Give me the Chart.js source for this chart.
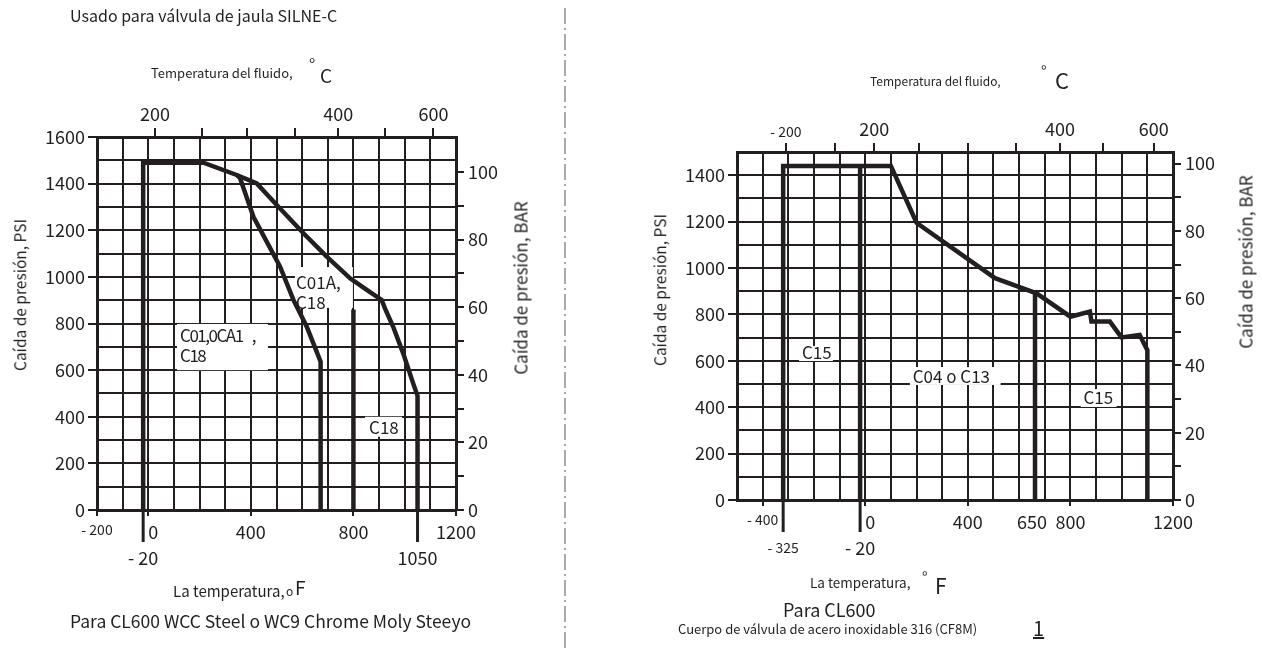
<!DOCTYPE html>
<html>
<head>
<meta charset="utf-8">
<script src="https://cdn.jsdelivr.net/npm/chart.js@4.4.1/dist/chart.umd.min.js"></script>
<style>
  body { margin: 0; width: 1262px; height: 652px; position: relative; overflow: hidden; background: #fff;
         font-family: "Noto Sans CJK JP", "Noto Sans", sans-serif; color: #231f20; }
  .t { position: absolute; white-space: nowrap; line-height: 1; transform: translateY(-50%); }
  .r { position: absolute; white-space: nowrap; line-height: 1; transform: translate(-50%, -50%) rotate(-90deg); }
  canvas { position: absolute; top: 0; }
</style>
</head>
<body>
<canvas id="izq" width="560" height="652" style="left:0"></canvas>
<canvas id="der" width="682" height="652" style="left:580px"></canvas>
<svg style="position:absolute;left:560px;top:0" width="10" height="652">
  <line x1="5" y1="8" x2="5" y2="652" stroke="#555" stroke-width="1" stroke-dasharray="16 4 2 4"/>
</svg>

<div class="t" style="left:70px;top:15px;font-size:16px">Usado para válvula de jaula SILNE-C</div>
<div class="t" style="left:151px;top:72px;font-size:13px">Temperatura del fluido,</div>
<div class="t" style="left:309px;top:63px;font-size:17px">°</div>
<div class="t" style="left:320px;top:74px;font-size:19px">C</div>
<div class="r" style="left:20px;top:295px;font-size:15.5px">Caída de presión, PSI</div>
<div class="r" style="left:520px;top:288px;font-size:17px">Caída de presión, BAR</div>
<div class="t" style="left:173px;top:590px;font-size:15px">La temperatura,</div>
<div class="t" style="left:286px;top:591px;font-size:12px">o</div>
<div class="t" style="left:295px;top:586px;font-size:19px">F</div>
<div class="t" style="left:70px;top:621px;font-size:17.5px">Para CL600 WCC Steel o WC9 Chrome Moly Steeyo</div>

<div class="t" style="left:870px;top:81px;font-size:12px">Temperatura del fluido,</div>
<div class="t" style="left:1041px;top:70px;font-size:15px">°</div>
<div class="t" style="left:1055px;top:79px;font-size:22px">C</div>
<div class="r" style="left:660px;top:290px;font-size:15.5px">Caída de presión, PSI</div>
<div class="r" style="left:1245px;top:262px;font-size:17px">Caída de presión, BAR</div>
<div class="t" style="left:810px;top:583px;font-size:13.5px">La temperatura,</div>
<div class="t" style="left:922px;top:576px;font-size:15px">°</div>
<div class="t" style="left:935px;top:585px;font-size:21px">F</div>
<div class="t" style="left:783px;top:609px;font-size:18px">Para CL600</div>
<div class="t" style="left:678px;top:628px;font-size:13px">Cuerpo de válvula de acero inoxidable 316 (CF8M)</div>
<div class="t" style="left:1033px;top:628px;font-size:20px;text-decoration:underline">1</div>

<script>
const INK = '#231f20';
const FONT = '"Noto Sans CJK JP", "Noto Sans", sans-serif';

// --- Panel izquierdo: acero WCC / WC9 (°F contra PSI)
const outerTempF = [-20, -20, 215, 345, 423, 501, 605, 696, 787, 852, 910, 923, 955, 994, 1033, 1050, 1050];
const outerPsi   = [0, 1490, 1490, 1437, 1401, 1308, 1187, 1087, 994, 944, 901, 865, 786, 672, 543, 490, 0];
const innerTempF = [345, 358, 410, 514, 566, 618, 672, 672];
const innerPsi   = [1437, 1423, 1258, 1044, 901, 786, 636, 0];
const c18TempF   = [800, 800];
const c18Psi     = [0, 860];

const leftFTicks    = [-200, 0, 400, 800, 1200];
const leftFLabels   = [-200, 400, 800, 1200];
const leftCTicks    = [26, 208, 384, 572, 741, 923, 1112];   // posiciones de la escala °C sobre la escala °F
const leftCLabels   = ['200', '', '', '', '400', '', '600'];
const leftMarks     = [{ v: 0, text: '0', row: 1, dx: 5 }, { v: -20, text: '- 20' }, { v: 1050, text: '1050' }];
const leftLabels = [
  { lines: ['C01A,', 'C18'], x: 576, y: 974, box: [572, 798, 1042, 867] },
  { lines: ['C01,0CA1    ,', 'C18'], x: 124, y: 747, box: [112, 467, 798, 600], tight: true },
  { lines: ['C18'], x: 861, y: 352, box: [845, 989, 400, 314] }
];

// --- Panel derecho: acero inoxidable 316 (CF8M)
const c15TempF  = [-320, -320, 100, 200, 506, 668, 800, 876, 882, 954, 999, 1070, 1100, 1100];
const c15Psi    = [0, 1440, 1440, 1195, 956, 891, 790, 812, 769, 769, 701, 711, 646, 0];
const c04TempF  = [-20, -20];
const c04Psi    = [0, 1440];
const c650TempF = [662, 662];
const c650Psi   = [0, 893];

const rightFTicks  = [-400, 0, 400, 800, 1200];
const rightFLabels = [-400, 400, 800, 1200];
const rightCTicks  = [-309, -119, 35, 208, 400, 588, 759, 927, 1125];
const rightCLabels = ['- 200', '', '200', '', '', '', '400', '', '600'];
const rightMarks   = [{ v: 0, text: '0', row: 1, dx: 5 }, { v: 650, text: '650', row: 1 },
                      { v: -320, text: '- 325', small: true }, { v: -20, text: '- 20' }];
const rightLabels = [
  { lines: ['C15'], x: -247, y: 634, box: [-258, -126, 664, 599] },
  { lines: ['C04 o C13'], x: 185, y: 534, box: [174, 528, 573, 496] },
  { lines: ['C15'], x: 851, y: 440, box: [840, 980, 478, 401] }
];

const barTicks = [0, 10, 20, 30, 40, 50, 60, 70, 80, 90, 100];
const PSI_PER_BAR = 14.5;

function pts(xs, ys) { return xs.map((x, i) => ({ x, y: ys[i] })); }
function line(xs, ys) {
  return { data: pts(xs, ys), borderColor: INK, borderWidth: 4.5, pointRadius: 0, fill: false,
           tension: 0, borderJoinStyle: 'miter', borderCapStyle: 'butt' };
}
function fmt(v) { return v < 0 ? '- ' + Math.abs(v) : String(v); }

function extras(marks, labels) {
  return {
    id: 'extras',
    // cajas blancas debajo de las curvas
    beforeDatasetsDraw(chart) {
      const { ctx } = chart;
      const xs = chart.scales.x, ys = chart.scales.y;
      ctx.save();
      ctx.fillStyle = '#fff';
      labels.forEach(l => {
        const [x0, x1, y0, y1] = l.box;
        const bx = xs.getPixelForValue(x0), by = ys.getPixelForValue(y0);
        ctx.fillRect(bx, by, xs.getPixelForValue(x1) - bx, ys.getPixelForValue(y1) - by);
      });
      ctx.restore();
    },
    afterDatasetsDraw(chart) {
      const { ctx, chartArea: a } = chart;
      const xs = chart.scales.x, ys = chart.scales.y;
      ctx.save();
      ctx.fillStyle = INK; ctx.strokeStyle = INK;
      ctx.textAlign = 'center'; ctx.textBaseline = 'middle';
      marks.forEach(m => {
        const px = xs.getPixelForValue(m.v);
        const row = m.row || 2;
        if (row === 2) {
          ctx.lineWidth = 3;
          ctx.beginPath(); ctx.moveTo(px, a.bottom); ctx.lineTo(px, a.bottom + 32); ctx.stroke();
        }
        ctx.font = (m.small ? 14 : 18) + 'px ' + FONT;
        ctx.fillText(m.text, px + (m.dx || 0), a.bottom + (row === 1 ? 22 : 48));
      });
      ctx.textAlign = 'left';
      ctx.font = '17px ' + FONT;
      labels.forEach(l => {
        ctx.letterSpacing = l.tight ? '-1.5px' : '0px';
        const tx = xs.getPixelForValue(l.x), ty = ys.getPixelForValue(l.y);
        l.lines.forEach((s, i) => ctx.fillText(s, tx, ty + i * 20));
      });
      ctx.restore();
    }
  };
}

function makeChart(id, o) {
  const W = o.width, H = 652;
  const grid = { color: INK, lineWidth: 2 };
  return new Chart(document.getElementById(id), {
    type: 'line',
    data: { datasets: o.series.map(s => line(s[0], s[1])) },
    options: {
      responsive: false, animation: false, devicePixelRatio: 1,
      layout: { padding: 0 },
      plugins: { legend: { display: false }, tooltip: { enabled: false } },
      scales: {
        x: {
          type: 'linear', position: 'bottom', min: o.xMin, max: 1200,
          afterFit: s => { s.height = H - o.area.bottom; },
          ticks: { stepSize: 100, autoSkip: false, maxRotation: 0, padding: 5, color: INK,
                   font: c => ({ family: FONT, size: c.tick && c.tick.value < 0 ? 14 : 18 }),
                   callback: v => o.fLabels.includes(v) ? fmt(v) : '' },
          grid: { ...grid, tickLength: 6, tickWidth: 2,
                  tickColor: c => c.tick && o.fTicks.includes(c.tick.value) ? INK : 'rgba(0,0,0,0)' },
          border: { color: INK, width: 3 }
        },
        xc: {
          type: 'linear', position: 'top', min: o.xMin, max: 1200,
          afterFit: s => { s.height = o.area.top; },
          afterBuildTicks: s => { s.ticks = o.cTicks.map(value => ({ value })); },
          ticks: { autoSkip: false, maxRotation: 0, padding: 3, color: INK,
                   font: c => ({ family: FONT, size: o.cLabels[c.index] && o.cLabels[c.index].startsWith('-') ? 14 : 18 }),
                   callback: (v, i) => o.cLabels[i] },
          grid: { color: INK, lineWidth: 2, drawOnChartArea: false, tickLength: 9 },
          border: { color: INK, width: 3 }
        },
        y: {
          type: 'linear', position: 'left', min: 0, max: o.yMax,
          afterFit: s => { s.width = o.area.left; },
          ticks: { stepSize: 100, autoSkip: false, padding: 3, color: INK, font: { family: FONT, size: 18 },
                   callback: v => v % 200 === 0 ? String(v) : '' },
          grid: { ...grid, tickLength: 9, tickWidth: 2,
                  tickColor: c => c.tick && c.tick.value % 200 === 0 ? INK : 'rgba(0,0,0,0)' },
          border: { color: INK, width: 3 }
        },
        bar: {
          type: 'linear', position: 'right', min: 0, max: o.yMax / PSI_PER_BAR,
          afterFit: s => { s.width = W - o.area.right; },
          afterBuildTicks: s => { s.ticks = barTicks.map(value => ({ value })); },
          ticks: { autoSkip: false, padding: 4, color: INK, font: { family: FONT, size: 18 },
                   callback: v => v % 20 === 0 ? String(v) : '' },
          grid: { color: INK, lineWidth: 2, drawOnChartArea: false, tickLength: 8 },
          border: { color: INK, width: 3 }
        }
      }
    },
    plugins: [extras(o.marks, o.labels)]
  });
}

makeChart('izq', {
  width: 560, xMin: -200, yMax: 1600,
  area: { left: 97, right: 456, top: 137, bottom: 510 },
  series: [[outerTempF, outerPsi], [innerTempF, innerPsi], [c18TempF, c18Psi]],
  fTicks: leftFTicks, fLabels: leftFLabels, cTicks: leftCTicks, cLabels: leftCLabels,
  marks: leftMarks, labels: leftLabels
});

makeChart('der', {
  width: 682, xMin: -500, yMax: 1500,
  area: { left: 157, right: 593, top: 152, bottom: 500 },
  series: [[c15TempF, c15Psi], [c04TempF, c04Psi], [c650TempF, c650Psi]],
  fTicks: rightFTicks, fLabels: rightFLabels, cTicks: rightCTicks, cLabels: rightCLabels,
  marks: rightMarks, labels: rightLabels
});
</script>
</body>
</html>
